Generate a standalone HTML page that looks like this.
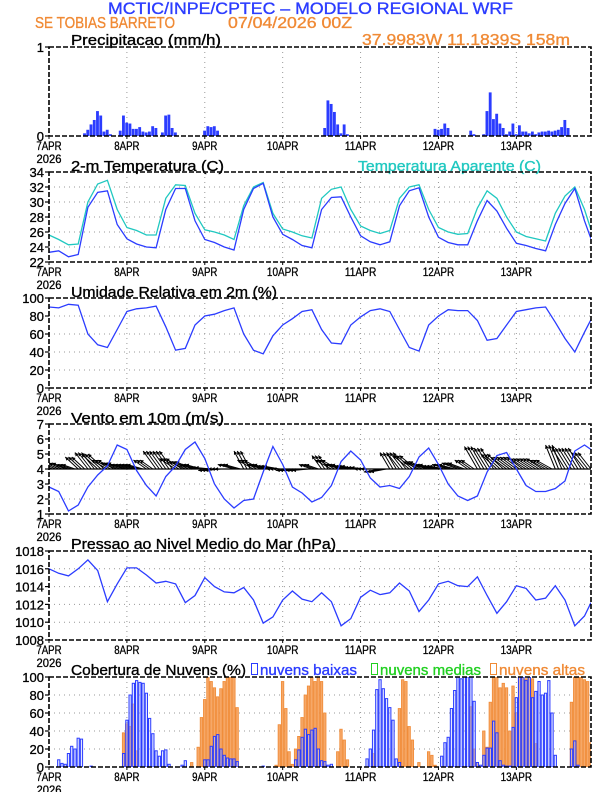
<!DOCTYPE html>
<html><head><meta charset="utf-8"><style>
html,body{margin:0;padding:0;background:#fff;}
svg{display:block;font-family:"Liberation Sans",sans-serif;}
.t{stroke-width:0.35;}
</style></head><body>
<svg id="c" width="612" height="792" viewBox="0 0 612 792">
<text class="t" x="108" y="14" font-size="17" fill="#2b3cff" stroke="#2b3cff" textLength="405" lengthAdjust="spacingAndGlyphs">MCTIC/INPE/CPTEC – MODELO REGIONAL WRF</text>
<text class="t" x="35" y="28" font-size="16" fill="#f08a35" stroke="#f08a35" textLength="140" lengthAdjust="spacingAndGlyphs">SE TOBIAS BARRETO</text>
<text class="t" x="228" y="28" font-size="16" fill="#f08a35" stroke="#f08a35" textLength="124" lengthAdjust="spacingAndGlyphs">07/04/2026 00Z</text>
<text class="t" x="362" y="45" font-size="16" fill="#f08a35" stroke="#f08a35" textLength="208" lengthAdjust="spacingAndGlyphs">37.9983W 11.1839S 158m</text>
<text class="t" x="71" y="45" font-size="15" fill="#000" stroke="#000" textLength="150" lengthAdjust="spacingAndGlyphs">Precipitacao (mm/h)</text>
<text class="t" x="71" y="171" font-size="15" fill="#000" stroke="#000" textLength="153" lengthAdjust="spacingAndGlyphs">2-m Temperatura (C)</text>
<text class="t" x="358" y="171" font-size="15" fill="#20c8c0" stroke="#20c8c0" textLength="183" lengthAdjust="spacingAndGlyphs">Temperatura Aparente (C)</text>
<text class="t" x="71" y="297" font-size="15" fill="#000" stroke="#000" textLength="206" lengthAdjust="spacingAndGlyphs">Umidade Relativa em 2m (%)</text>
<text class="t" x="71" y="423" font-size="15" fill="#000" stroke="#000" textLength="153" lengthAdjust="spacingAndGlyphs">Vento em 10m (m/s)</text>
<text class="t" x="71" y="549" font-size="15" fill="#000" stroke="#000" textLength="265" lengthAdjust="spacingAndGlyphs">Pressao ao Nivel Medio do Mar (hPa)</text>
<text class="t" x="71" y="675" font-size="15" fill="#000" stroke="#000" textLength="175" lengthAdjust="spacingAndGlyphs">Cobertura de Nuvens (%)</text>
<rect x="251.5" y="663.5" width="6" height="11" fill="none" stroke="#2b3cff"/>
<text class="t" x="260" y="675" font-size="15" fill="#2b3cff" stroke="#2b3cff" textLength="97" lengthAdjust="spacingAndGlyphs">nuvens baixas</text>
<rect x="371.5" y="663.5" width="6" height="11" fill="none" stroke="#20d020"/>
<text class="t" x="380" y="675" font-size="15" fill="#20d020" stroke="#20d020" textLength="101" lengthAdjust="spacingAndGlyphs">nuvens medias</text>
<rect x="490.5" y="663.5" width="6" height="11" fill="none" stroke="#f08a35"/>
<text class="t" x="499" y="675" font-size="15" fill="#f08a35" stroke="#f08a35" textLength="86" lengthAdjust="spacingAndGlyphs">nuvens altas</text>
</svg>
<script>
const temp2m=[23.3,23.5,22.7,23.0,29.3,31.3,31.5,27.0, 25.1,24.4,24.0,23.9,29.0,31.8,31.8,27.5, 25.0,24.6,24.0,23.6,29.0,31.8,32.5,28.0, 25.7,25.0,24.2,23.9,29.0,30.6,30.7,28.0, 25.5,24.7,24.3,24.7,29.5,31.5,31.9,28.0, 25.3,24.6,24.3,24.3,27.5,30.2,28.8,26.5, 24.5,24.2,23.8,23.5,27.0,29.8,31.8,27.5, 25.1];
const tempApparent=[25.6,25.0,24.3,24.4,30.0,32.4,32.9,29.0, 26.6,26.2,25.6,25.6,30.5,32.3,32.2,28.5, 26.3,26.0,25.6,25.0,29.5,32.0,32.6,28.5, 26.4,26.0,25.5,25.2,30.5,31.7,32.0,29.0, 26.8,26.2,25.8,26.2,30.5,32.0,32.3,29.0, 26.6,26.0,25.7,25.8,29.2,31.5,30.5,28.0, 26.0,25.4,25.1,24.8,28.5,30.8,32.0,29.0, 26.3];
const relHumidity=[90,89,93,92,60,48,45,65, 85,88,89,91,68,42,44,70, 80,82,86,89,60,42,38,58, 70,77,85,87,65,50,49,70, 79,86,88,85,65,45,41,70, 80,87,86,86,75,53,55,70, 85,87,89,90,73,55,40,62, 76];
const windSpeed=[2.8,2.5,1.2,1.6,2.8,3.6,4.2,5.6, 5.3,3.9,2.9,2.2,3.5,4.2,5.3,5.8, 4.7,3.0,2.0,1.4,1.9,2.0,3.8,5.5, 4.3,2.8,2.4,1.8,2.1,2.9,4.5,5.2, 4.6,3.4,2.8,2.9,2.7,3.5,4.8,5.4, 4.3,3.0,2.2,1.9,2.2,3.8,4.9,5.1, 4.0,2.9,2.5,2.5,2.7,3.2,5.2,5.6, 5.3];
const windTip=[4.4,4.4,4.3,4.8,5.1,5.0,4.6,4.4, 4.3,4.3,4.6,5.2,5.2,4.7,4.5,4.3, 4.1,3.9,4.0,4.3,5.2,4.6,4.3,4.2, 4.0,3.9,3.9,4.3,4.9,4.6,4.3,4.2, 4.1,4.0,3.8,5.1,5.1,4.9,4.5,4.3, 4.2,4.3,4.4,4.6,5.5,5.4,5.0,4.8, 4.8,4.7,4.7,4.6,5.6,5.4,5.4,5.1];
const windDx=[-4,-4,-4,-4,-4,-5,-5,-5, -5,-5,-4,-4,-4,-5,-5,-5, -5,-5,-5,-5,-3,-5,-5,-5, -5,-5,-5,-4,-3,-5,-5,-5, -5,-5,-5,-3,-4,-5,-5,-5, -5,-5,-5,-4,-4,-4,-5,-5, -5,-5,-5,-5,-3,-4,-4,-4];
const pressure=[1016.0,1015.5,1015.2,1016.0,1017.0,1015.8,1012.3,1014.3, 1016.1,1016.1,1015.3,1014.4,1014.6,1014.3,1012.2,1013.0, 1015.0,1014.0,1013.4,1013.3,1013.9,1012.5,1009.9,1010.6, 1012.5,1013.5,1012.6,1012.3,1013.3,1012.3,1009.6,1010.4, 1012.8,1013.6,1013.1,1013.3,1014.4,1013.5,1011.2,1012.5, 1014.3,1014.6,1014.1,1014.0,1015.1,1013.0,1011.0,1012.3, 1014.1,1013.8,1012.5,1012.7,1014.1,1012.5,1009.6,1010.7, 1012.2];
const precipHours=[11,12,13,14,15,16,17,18,19,22,23,24,25,26,27,28,29,30,31,32,33,35,36,37,38,39,48,49,50,51,52,85,86,87,88,89,90,91,92,119,120,121,122,123,130,131,134,135,136,137,138,139,140,141,142,143,144,145,146,147,148,149,150,151,152,153,154,155,156,157,158,159,160];
const precipVals=[.03,.07,.13,.18,.28,.23,.05,.07,.02,.06,.23,.15,.14,.08,.08,.1,.05,.04,.05,.11,.09,.04,.23,.24,.09,.04,.06,.11,.1,.11,.06,.09,.4,.36,.27,.13,.03,.13,.02,.08,.07,.08,.14,.09,.06,.02,.02,.28,.49,.19,.25,.14,.09,.02,.05,.14,.02,.12,.05,.05,.03,.05,.02,.04,.05,.05,.06,.05,.06,.07,.1,.18,.09];
const lowHours=[3,4,5,6,7,8,9,10,13,23,24,25,26,27,28,29,30,31,32,33,34,35,36,37,41,42,48,49,50,51,52,53,54,55,56,57,58,66,76,77,78,79,80,81,82,83,84,85,86,87,98,99,100,101,102,103,104,105,106,107,108,121,122,123,124,125,126,127,128,129,130,131,132,133,134,135,136,137,138,139,140,141,142,143,144,145,146,147,148,149,150,151,152,153,154,155,156,161,162,163];
const lowVals=[8,4,3,15,23,20,32,31,1,15,52,80,93,96,94,93,82,54,37,18,12,18,19,3,2,7,8,8,23,34,36,20,13,10,9,9,6,1,8,19,33,42,36,41,43,20,7,6,2,3,9,20,41,86,97,87,76,66,52,9,5,12,27,33,65,85,100,98,100,100,100,73,5,2,13,21,21,51,38,7,2,1,1,44,77,100,100,96,100,77,84,95,80,82,96,60,13,20,29,2];
const highHours=[23,24,25,26,27,44,46,47,48,49,50,51,52,53,54,55,56,57,58,70,71,72,73,74,75,76,77,78,79,80,81,82,83,84,85,89,90,91,92,100,108,109,110,111,112,114,117,118,119,130,131,132,134,135,136,137,138,139,140,141,142,143,144,145,146,147,148,149,150,161,162,163,164,165,166,167];
const highVals=[38,48,45,70,18,5,22,55,75,100,95,88,78,87,95,100,100,100,66,2,47,95,65,17,3,20,34,55,80,90,100,95,100,95,60,17,42,30,8,15,65,97,95,45,30,5,17,13,2,67,20,5,40,22,72,100,100,88,93,88,40,90,60,100,100,98,100,98,26,72,100,100,100,97,95,27];
const dayLabels=["7APR","8APR","9APR","10APR","11APR","12APR","13APR"];

const svg=document.getElementById('c');
const NS='http://www.w3.org/2000/svg';
const X0=49,X1=591,HMAX=167;
function x(h){return X0+h*(X1-X0)/HMAX;}
function mk(tag,attrs,parent){const e=document.createElementNS(NS,tag);for(const k in attrs)e.setAttribute(k,attrs[k]);(parent||svg).appendChild(e);return e;}
function hr(i){return Math.min(i*3,HMAX);}

const panels=[
 {id:'precip',top:47,bot:136,min:0,max:1,ticks:[0,1],grid:false},
 {id:'temp',top:172,bot:262,min:22,max:34,ticks:[22,24,26,28,30,32,34],grid:true},
 {id:'rh',top:298,bot:388,min:0,max:100,ticks:[0,20,40,60,80,100],grid:true},
 {id:'wind',top:424,bot:514,min:1,max:7,ticks:[1,2,3,4,5,6,7],grid:true},
 {id:'pres',top:551,bot:640,min:1008,max:1018,ticks:[1008,1010,1012,1014,1016,1018],grid:true},
 {id:'cloud',top:677,bot:767,min:0,max:100,ticks:[0,20,40,60,80,100],grid:true}
];
panels.forEach(p=>{p.y=v=>p.bot-(v-p.min)/(p.max-p.min)*(p.bot-p.top);});

panels.forEach(p=>{
  const g=mk('g',{});
  
  
  p.g=g;
  const cp=mk('clipPath',{id:'clip-'+p.id},g);
  mk('rect',{x:X0,y:p.top,width:X1-X0,height:p.bot-p.top},cp);
  for(let d=1;d<7;d++){
    const l=mk('line',{x1:x(d*24),x2:x(d*24),y1:p.top,y2:p.bot,stroke:'#999','stroke-dasharray':'1,4','stroke-width':1},g);
    
    
  }
  p.ticks.forEach(t=>{
    const yy=p.y(t);
    if(p.grid&&t!==p.min&&t!==p.max){
      const l=mk('line',{x1:X0,x2:X1,y1:yy,y2:yy,stroke:'#999','stroke-dasharray':'1,4'},g);
      
      
    }
    mk('line',{x1:X0-4,x2:X0,y1:yy,y2:yy,stroke:'#000','stroke-width':1.2},g);
    const tx=mk('text',{x:X0-5,y:yy+5,'font-size':13,'text-anchor':'end',fill:'#000',stroke:'#000','stroke-width':0.3},g);
    tx.textContent=t;
    
    
  });
  for(let d=0;d<7;d++){
    const lab=dayLabels[d];
    const tx=mk('text',{x:x(d*24),y:p.bot+14,'font-size':12,'text-anchor':'middle',fill:'#000',stroke:'#000','stroke-width':0.3,textLength:lab.length*6.3,lengthAdjust:'spacingAndGlyphs'},g);
    tx.textContent=lab;
    
    
    mk('line',{x1:x(d*24),x2:x(d*24),y1:p.bot,y2:p.bot+3,stroke:'#000'},g);
  }
  const yr=mk('text',{x:x(0),y:p.bot+27,'font-size':12,'text-anchor':'middle',fill:'#000',stroke:'#000','stroke-width':0.3,textLength:25,lengthAdjust:'spacingAndGlyphs'},g);
  yr.textContent='2026';
  
  
});
const P={};panels.forEach(p=>P[p.id]=p);

function line(p,arr,color,name){
  const pts=arr.map((v,i)=>x(hr(i)).toFixed(1)+','+p.y(v).toFixed(1)).join(' ');
  const pl=mk('polyline',{points:pts,fill:'none',stroke:color,'stroke-width':1.3,'clip-path':'url(#clip-'+p.id+')'},p.g);
  
  
}
const bw=(X1-X0)/HMAX;
precipHours.forEach((h,i)=>{
  const p=P.precip;
  const r=mk('rect',{x:x(h)-bw/2,y:p.y(precipVals[i]),width:bw-0.4,height:p.bot-p.y(precipVals[i]),fill:'#2b3cff'},p.g);
  
  
});
line(P.temp,tempApparent,'#20c8c0','apparent-temp-line');
line(P.temp,temp2m,'#2b3cff','temp-line');
line(P.rh,relHumidity,'#2b3cff','rh-line');
(function(){
  const p=P.wind;
  const bl=mk('line',{x1:X0,x2:X1,y1:p.y(4),y2:p.y(4),stroke:'#000','stroke-width':1.2},p.g);
  
  
  windTip.forEach((t,i)=>{
    for(let k=0;k<3;k++){
      const h=i*3+k; if(h>HMAX) continue;
      const x1=x(h),y1=p.y(4),x2=x(h+windDx[i]),y2=p.y(t);
      const a=mk('line',{x1:x1,y1:y1,x2:x2,y2:y2,stroke:'#000','stroke-width':1,'clip-path':'url(#clip-wind)'},p.g);
      
      
      const ang=Math.atan2(y2-y1,x2-x1),L=4;
      const hd=mk('polygon',{points:[x2,y2,x2-L*Math.cos(ang-0.5),y2-L*Math.sin(ang-0.5),x2-L*Math.cos(ang+0.5),y2-L*Math.sin(ang+0.5)].join(','),fill:'#000','clip-path':'url(#clip-wind)'},p.g);
      
      
    }
  });
})();
line(P.wind,windSpeed,'#2b3cff','wind-speed-line');
line(P.pres,pressure,'#2b3cff','pressure-line');
highHours.forEach((h,i)=>{
  const p=P.cloud;
  const r=mk('rect',{x:x(h)-bw/2+0.3,y:p.y(highVals[i]),width:bw-0.8,height:p.bot-p.y(highVals[i]),fill:'#f6a868',stroke:'#f08a35','stroke-width':0.8,'clip-path':'url(#clip-cloud)'},p.g);
  
  
});
lowHours.forEach((h,i)=>{
  const p=P.cloud;
  const r=mk('rect',{x:x(h)-bw/2+0.5,y:p.y(lowVals[i]),width:bw-1,height:p.bot-p.y(lowVals[i]),fill:'rgba(190,200,255,0.45)',stroke:'#2b3cff','stroke-width':1,'clip-path':'url(#clip-cloud)'},p.g);
  
  
});
panels.forEach(p=>{
  const f=mk('rect',{x:X0,y:p.top,width:X1-X0,height:p.bot-p.top,fill:'none',stroke:'#000','stroke-width':1.6,'stroke-dasharray':'5,2'},p.g);
  
  
});
</script>
</body></html>
